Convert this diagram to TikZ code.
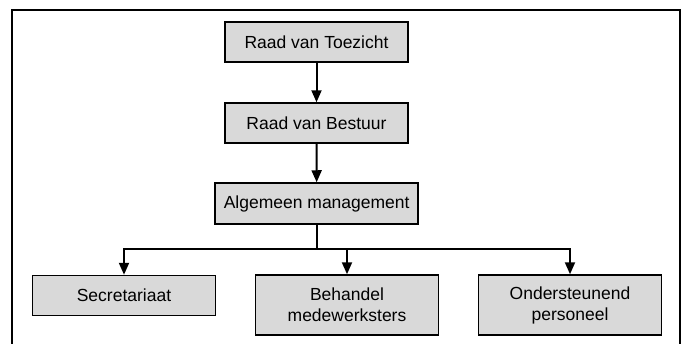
\documentclass[tikz,border=0pt]{standalone}
\usepackage{fontspec}
\setmainfont{Liberation Sans}
\usetikzlibrary{arrows.meta,calc}
\tikzset{
>={Triangle[length=12pt,width=10pt]},
blok/.style={draw,line width=1.5pt,fill=gray!30,minimum width=183pt,minimum height=40pt,inner sep=1pt,align=center},
hoog/.style={blok,minimum height=60pt},
pijl/.style={->,line width=2pt}}

\begin{document}
\begin{tikzpicture}[x=1pt,y=-1pt,font=\fontsize{17.5}{21}\selectfont]

\useasboundingbox (0,0) rectangle (685,343);
\draw[line width=1.5pt] (12,350) -- (12,10) -- (680,10) -- (680,350);

\node[blok] (rvt) at (316.5,42) {Raad van Toezicht};
\node[blok] (rvb) at (316.5,123) {Raad van Bestuur};
\node[blok,minimum width=203pt,minimum height=41pt] (alg) at (316.7,203.5) {Algemeen management};
\node[blok] (sec) at (124,295.5) {Secretariaat};
\node[hoog] (beh) at (347,305) {Behandel\\medewerksters};
\node[hoog] (ond) at (570,305) {Ondersteunend\\personeel};
\coordinate (split) at (316.7,249);

\path[pijl] (rvt) edge (rvb);
\path[pijl] (rvb) edge (alg);

\draw[line width=2pt] (alg) -- (split);
\draw[pijl] (split) -| (sec);
\draw[pijl] (split) -| (beh);
\draw[pijl] (split) -| (ond);

\end{tikzpicture}
\end{document}
